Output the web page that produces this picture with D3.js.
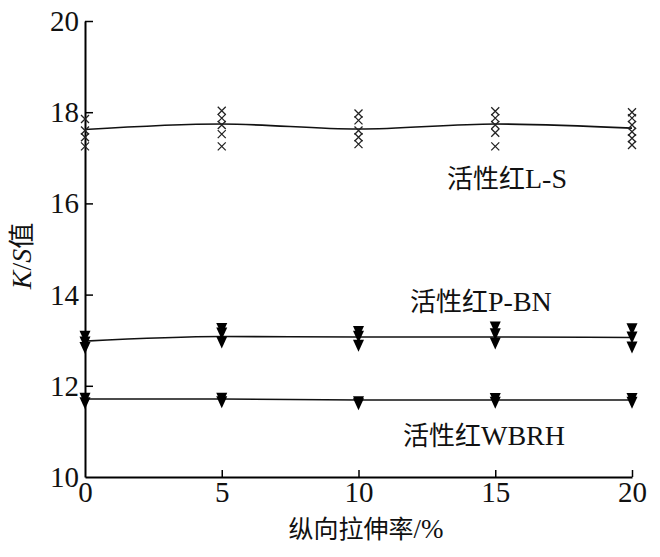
<!DOCTYPE html>
<html><head><meta charset="utf-8">
<script src="https://cdn.jsdelivr.net/npm/d3@7"></script>
<style>body{margin:0;background:#fff}svg{display:block}</style>
</head><body><svg id="c" width="660" height="557"></svg>
<script>
const xTicks = [0, 5, 10, 15, 20];
const yTicks = [10, 12, 14, 16, 18, 20];
const stretch = [0, 5, 10, 15, 20];
// fitted (mean) lines
const lsLine = [17.62, 17.74, 17.63, 17.74, 17.65];
const pbnLine = [12.98, 13.08, 13.07, 13.07, 13.06];
const wbrhLine = [11.71, 11.71, 11.69, 11.69, 11.69];
// replicate measurements
const lsPoints = [[17.85, 17.6, 17.45, 17.25], [18.03, 17.87, 17.72, 17.52, 17.25], [17.97, 17.82, 17.6, 17.45, 17.3], [18.02, 17.87, 17.72, 17.55, 17.25], [18.0, 17.87, 17.72, 17.57, 17.43, 17.28]];
const pbnPoints = [[13.1, 12.97, 12.85], [13.27, 13.17, 12.97], [13.2, 13.1, 12.9], [13.3, 13.15, 12.95], [13.26, 13.08, 12.86]];
const wbrhPoints = [[11.74, 11.64], [11.74, 11.66], [11.66, 11.62], [11.73, 11.65], [11.73, 11.65]];
const labels = ["活性红L-S", "活性红P-BN", "活性红WBRH"];

const svg = d3.select("#c");
const x = d3.scaleLinear().domain([0, 20]).range([85, 632]);
const y = d3.scaleLinear().domain([10, 20]).range([477, 21]);
const serif = "'Liberation Serif','Times New Roman',serif";
const cjk = "'Noto Sans CJK SC',sans-serif";

// axes
const ax = svg.append("g").attr("transform", `translate(0,${y(10)})`)
  .call(d3.axisBottom(x).tickValues(xTicks).tickSize(-7).tickPadding(10).tickSizeOuter(0));
const ay = svg.append("g").attr("transform", `translate(${x(0)},0)`)
  .call(d3.axisLeft(y).tickValues(yTicks).tickSize(-8).tickPadding(10).tickSizeOuter(0));
[ax, ay].forEach(g => {
  g.attr("font-family", serif);
  g.select(".domain").attr("stroke", "#000").attr("stroke-width", 2);
  g.selectAll(".tick line").attr("stroke", "#000").attr("stroke-width", 1.5);
  g.selectAll(".tick text").attr("font-family", serif).attr("font-size", 29).attr("fill", "#111");
});
ay.selectAll(".tick text").attr("x", -6).attr("dy", "0.33em");
ax.selectAll(".tick text").attr("y", 4);
// hide zero-tick lines that coincide with axis
ax.selectAll(".tick").filter(d => d === 0).select("line").remove();
ay.selectAll(".tick").filter(d => d === 10).select("line").remove();

const line = d3.line().x((d, i) => x(stretch[i])).y(d => y(d)).curve(d3.curveMonotoneX);
[lsLine, pbnLine, wbrhLine].forEach(s => {
  svg.append("path").attr("d", line(s)).attr("fill", "none").attr("stroke", "#111").attr("stroke-width", 1.6);
});

// crosses
lsPoints.forEach((vals, i) => vals.forEach(v => {
  const cx = x(stretch[i]), cy = y(v), r = 4;
  svg.append("path").attr("d", `M${cx - r},${cy - r}L${cx + r},${cy + r}M${cx - r},${cy + r}L${cx + r},${cy - r}`)
    .attr("stroke", "#222").attr("stroke-width", 1.3).attr("fill", "none");
}));
// down triangles
const tri = (cx, cy) => `M${cx - 5.5},${cy - 5}L${cx + 5.5},${cy - 5}L${cx},${cy + 7}Z`;
[pbnPoints, wbrhPoints].forEach(ser => ser.forEach((vals, i) => vals.forEach(v => {
  svg.append("path").attr("d", tri(x(stretch[i]), y(v))).attr("fill", "#000");
})));

// series labels
const lab = [[447, 188, labels[0]], [410, 311, labels[1]], [403, 445, labels[2]]];
lab.forEach(([lx, ly, t]) => {
  const te = svg.append("text").attr("x", lx).attr("y", ly).attr("font-size", 28).attr("fill", "#111");
  const m = t.match(/^([\u4e00-\u9fff]+)(.*)$/);
  te.append("tspan").attr("font-family", cjk).attr("font-size", 26).text(m[1]);
  te.append("tspan").attr("font-family", serif).text(m[2]);
});

// axis titles
const yt = svg.append("text").attr("transform", "translate(31,256) rotate(-90)").attr("text-anchor", "middle")
  .attr("font-size", 28).attr("fill", "#111");
yt.append("tspan").attr("font-family", serif).attr("font-style", "italic").text("K");
yt.append("tspan").attr("font-family", serif).text("/");
yt.append("tspan").attr("font-family", serif).attr("font-style", "italic").text("S");
yt.append("tspan").attr("font-family", cjk).attr("font-size", 26).text("值");

const xt = svg.append("text").attr("x", 366).attr("y", 538).attr("text-anchor", "middle").attr("font-size", 27).attr("fill", "#111");
xt.append("tspan").attr("font-family", cjk).attr("font-size", 25).text("纵向拉伸率");
xt.append("tspan").attr("font-family", serif).text("/%");
</script></body></html>
